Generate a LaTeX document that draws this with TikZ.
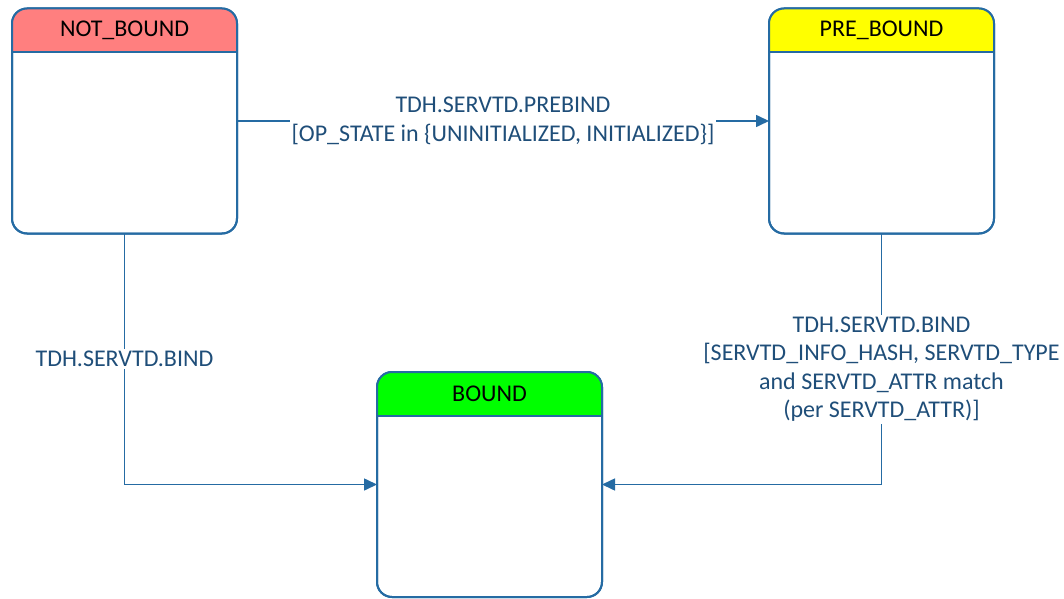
\documentclass[tikz,border=0pt]{standalone}
\usepackage{fontspec}
\setmainfont{Carlito}
\usetikzlibrary{arrows.meta}

\definecolor{linecol}{RGB}{37,107,163}
\definecolor{textcol}{RGB}{31,78,121}
\definecolor{hdrred}{RGB}{255,127,127}
\definecolor{hdryellow}{RGB}{255,255,0}
\definecolor{hdrgreen}{RGB}{0,255,0}

\tikzset{
  state/.style={draw=linecol, line width=2pt, fill=white, rounded corners=15pt,
    minimum width=225pt, minimum height=225pt, inner sep=0pt, outer sep=0pt},
  trans/.style={draw=linecol, line width=1.6pt, -{Triangle[length=13pt,width=12pt]}},
  translabel/.style={fill=white, text=textcol, align=center,
    font=\fontsize{24}{28.5}\selectfont, inner sep=2pt}
}

\begin{document}
\begin{tikzpicture}[x=1pt,y=1pt]
  \useasboundingbox (0,0) rectangle (1064,598);

  \begin{scope}[every node/.style={state}]
    \node (notbound) at (124.5,477)   {};
    \node (prebound) at (881.5,477)   {};
    \node (bound)    at (489.5,113.5) {};
  \end{scope}

  % headers
  \foreach \s/\col/\lbl in {notbound/hdrred/NOT\_BOUND, prebound/hdryellow/PRE\_BOUND, bound/hdrgreen/BOUND}{
    \begin{scope}
      \clip[rounded corners=15pt] (\s.south west) rectangle (\s.north east);
      \fill[\col] (\s.north west) rectangle ([yshift=-44pt]\s.north east);
    \end{scope}
    \draw[linecol, line width=2pt] ([yshift=-44pt]\s.north west) -- ([yshift=-44pt]\s.north east);
    \draw[linecol, line width=2pt, rounded corners=15pt] (\s.south west) rectangle (\s.north east);
    \node[font=\fontsize{24}{28}\selectfont] at ([yshift=-22pt]\s.north) {\lbl};
  }

  \draw[trans] (notbound.east) -- node[translabel]
    {TDH.SERVTD.PREBIND\\{}[OP\_STATE in \{UNINITIALIZED, INITIALIZED\}]} (prebound.west);
  \draw[trans] (notbound.south) |- node[translabel, pos=0.25] {TDH.SERVTD.BIND} (bound.west);
  \draw[trans] (prebound.south) |- node[translabel, pos=0.27]
    {TDH.SERVTD.BIND\\{}[SERVTD\_INFO\_HASH, SERVTD\_TYPE\\and SERVTD\_ATTR match\\(per SERVTD\_ATTR)]} (bound.east);

\end{tikzpicture}
\end{document}
